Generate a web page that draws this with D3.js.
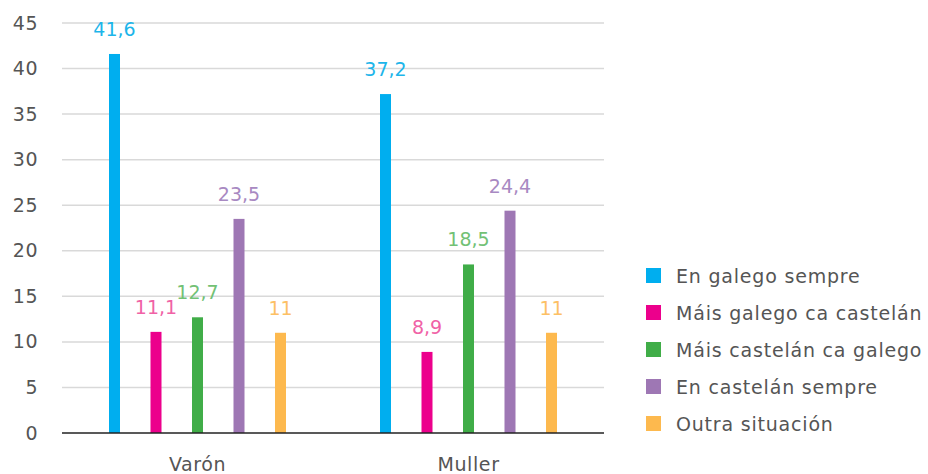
<!DOCTYPE html>
<html>
<head>
<meta charset="utf-8">
<script src="https://cdn.jsdelivr.net/npm/d3@7"></script>
<style>
  body { margin: 0; background: #fff; }
  svg { display: block; font-family: "DejaVu Sans", sans-serif; }
</style>
</head>
<body>
<svg id="chart" width="928" height="474"></svg>
<script>
// Datos do gráfico
const categories = ['Varón', 'Muller'];
const series = ['En galego sempre', 'Máis galego ca castelán', 'Máis castelán ca galego', 'En castelán sempre', 'Outra situación'];
const valuesVaron = [41.6, 11.1, 12.7, 23.5, 11];
const valuesMuller = [37.2, 8.9, 18.5, 24.4, 11];
const yTicks = [0, 5, 10, 15, 20, 25, 30, 35, 40, 45];

const barColors = ['#00aeef', '#ec008c', '#40ad48', '#9e77b4', '#fdb94e'];
const labelColors = ['#1db5ea', '#f062a6', '#72c175', '#a889c2', '#fdc064'];

const svg = d3.select('#chart');
const plot = { left: 62, right: 604, top: 23, bottom: 433 };

const x0 = d3.scaleBand().domain(categories).range([plot.left, plot.right]);
const x1 = d3.scaleBand().domain(series).range([-103.75, 103.75]);
const y = d3.scaleLinear().domain([0, 45]).range([plot.bottom, plot.top]);
const barW = 11;

// Liñas de grella
svg.append('g')
    .selectAll('line')
    .data(yTicks.filter(d => d > 0))
    .join('line')
    .attr('x1', plot.left)
    .attr('x2', plot.right)
    .attr('y1', d => y(d))
    .attr('y2', d => y(d))
    .attr('stroke', '#d9d9d9')
    .attr('stroke-width', 1.5);

// Eixo Y
svg.append('g')
    .attr('transform', `translate(${plot.left}, 0)`)
    .call(d3.axisLeft(y).tickValues(yTicks).tickSize(0).tickPadding(24))
    .call(g => g.select('.domain').remove())
    .selectAll('text')
    .attr('font-family', '"DejaVu Sans", sans-serif')
    .attr('font-size', 19)
    .attr('letter-spacing', 0.5)
    .attr('fill', '#555');

const data = [];
categories.forEach((c, ci) => {
    const vals = ci === 0 ? valuesVaron : valuesMuller;
    series.forEach((s, si) => data.push({ cat: c, ser: s, i: si, v: vals[si] }));
});

const cx = d => x0(d.cat) + x0.bandwidth() / 2 + x1(d.ser) + x1.bandwidth() / 2;

// Barras
svg.append('g')
    .selectAll('rect')
    .data(data)
    .join('rect')
    .attr('x', d => cx(d) - barW / 2)
    .attr('y', d => y(d.v))
    .attr('width', barW)
    .attr('height', d => y(0) - y(d.v))
    .attr('fill', d => barColors[d.i]);

// Etiquetas de valor
svg.append('g')
    .selectAll('text')
    .data(data)
    .join('text')
    .attr('x', d => cx(d))
    .attr('y', d => y(d.v) - 18)
    .attr('text-anchor', 'middle')
    .attr('font-size', 19)
    .attr('fill', d => labelColors[d.i])
    .text(d => String(d.v).replace('.', ','));

// Liña base
svg.append('line')
    .attr('x1', plot.left)
    .attr('x2', plot.right)
    .attr('y1', y(0))
    .attr('y2', y(0))
    .attr('stroke', '#222')
    .attr('stroke-width', 1.5);

// Etiquetas de categoría
svg.append('g')
    .selectAll('text')
    .data(categories)
    .join('text')
    .attr('x', d => x0(d) + x0.bandwidth() / 2)
    .attr('y', 471)
    .attr('text-anchor', 'middle')
    .attr('font-size', 19)
    .attr('letter-spacing', 0.6)
    .attr('fill', '#555')
    .text(d => d);

// Lenda
const legend = svg.append('g').attr('transform', 'translate(646, 268)');
series.forEach((s, i) => {
    const item = legend.append('g').attr('transform', `translate(0, ${i * 37})`);
    item.append('rect')
        .attr('width', 15)
        .attr('height', 15)
        .attr('fill', barColors[i]);
    item.append('text')
        .attr('x', 30)
        .attr('y', 8)
        .attr('dominant-baseline', 'central')
        .attr('font-size', 19)
        .attr('letter-spacing', 0.8)
        .attr('fill', '#555')
        .text(s);
});
</script>
</body>
</html>
